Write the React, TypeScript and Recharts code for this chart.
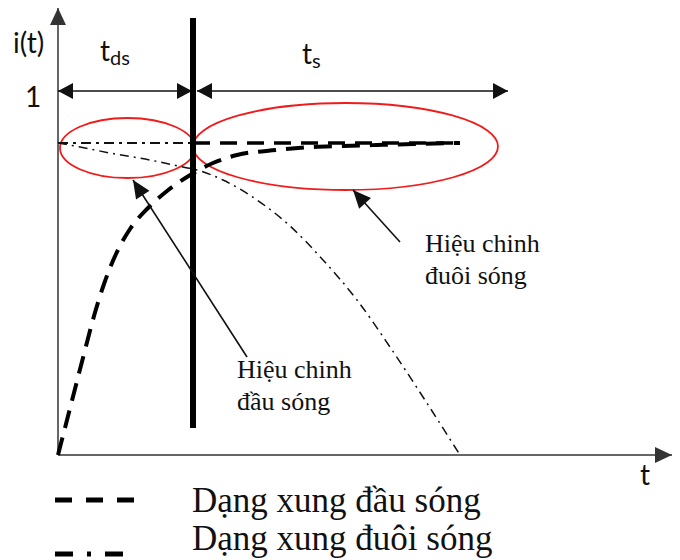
import React from "react";
import {
  LineChart,
  Line,
  XAxis,
  YAxis,
  ReferenceLine,
  ReferenceArea,
  ReferenceDot,
  Legend,
} from "recharts";

// front-of-wave pulse (dashed), normalised current
const frontT = [0, 0.15, 0.3, 0.45, 0.6, 0.7667, 0.9667, 1.2, 1.5, 1.8167, 2.15, 2.5833, 2.9833, 3.65, 4.25, 4.75, 5.3167, 5.9167, 6.7];
const frontI = [0, 0.1122, 0.2244, 0.3365, 0.4455, 0.5481, 0.6442, 0.7244, 0.7917, 0.8462, 0.891, 0.9359, 0.9615, 0.9776, 0.9872, 0.9904, 0.9936, 0.9968, 1.0];

// tail-of-wave pulse (dash-dot)
const tailT = [0, 0.3667, 0.8667, 1.5333, 2.0833, 2.3167, 2.75, 3.3167, 3.8667, 4.4167, 4.9833, 5.5333, 6.0833, 6.7];
const tailI = [1, 0.9872, 0.9679, 0.9455, 0.9231, 0.9135, 0.8814, 0.8173, 0.734, 0.625, 0.4968, 0.3462, 0.1859, 0];

// i = 1 level, split at t_ds
const T_DS = 2.25;
const T_END = 6.7;
const levelHeadT = [0, T_DS];
const levelTailT = [T_DS, T_END];

const seriesNames = ["Dạng xung đầu sóng", "Dạng xung đuôi sóng"];

const toRows = (ts: number[], is: number[]) => ts.map((t, k) => ({ t, i: is[k] }));
const frontData = toRows(frontT, frontI);
const tailData = toRows(tailT, tailI);
const levelHead = toRows(levelHeadT, [1, 1]);
const levelTail = toRows(levelTailT, [1, 1]);

const SERIF = "'Liberation Serif', 'Times New Roman', serif";
const SANS = "Lato, 'Open Sans', sans-serif";
const INK = "#111";
const RED = "#f01c1c";

const arrowShape = (both: boolean, len = 15, half = 8) => (p: any) => {
  const { x1, y1, x2, y2, stroke, strokeWidth } = p;
  const a = Math.atan2(y2 - y1, x2 - x1);
  const head = (x: number, y: number, ang: number) => {
    const bx = x - len * Math.cos(ang);
    const by = y - len * Math.sin(ang);
    const nx = -Math.sin(ang) * half;
    const ny = Math.cos(ang) * half;
    return `${x},${y} ${bx + nx},${by + ny} ${bx - nx},${by - ny}`;
  };
  return (
    <g>
      <line x1={x1} y1={y1} x2={x2} y2={y2} stroke={stroke} strokeWidth={strokeWidth} />
      <polygon points={head(x2, y2, a)} fill={stroke} />
      {both && <polygon points={head(x1, y1, a + Math.PI)} fill={stroke} />}
    </g>
  );
};

const ellipseShape = (p: any) => (
  <ellipse
    cx={p.x + p.width / 2}
    cy={p.y + p.height / 2}
    rx={p.width / 2}
    ry={p.height / 2}
    fill="none"
    stroke={RED}
    strokeWidth={1.8}
  />
);

const textShape =
  (main: string, sub?: string, size = 28, font = SANS) =>
  (p: any) => (
    <text x={p.cx} y={p.cy} fontFamily={font} fontSize={size} fill={INK}>
      <tspan>{main}</tspan>
      {sub && (
        <tspan fontSize={20} dy={4}>
          {sub}
        </tspan>
      )}
    </text>
  );

const twoLineShape = (l1: string, l2: string) => (p: any) => (
  <text fontFamily={SERIF} fontSize={26} fill={INK}>
    <tspan x={p.cx} y={p.cy}>{l1}</tspan>
    <tspan x={p.cx} y={p.cy + 32}>{l2}</tspan>
  </text>
);

const renderLegend = () => (
  <svg width={680} height={90}>
    <line x1={55} y1={30} x2={135} y2={30} stroke="#000" strokeWidth={5} strokeDasharray="17 14" />
    <text x={192} y={42} fontFamily={SERIF} fontSize={35} fill={INK}>
      {seriesNames[0]}
    </text>
    <line x1={55} y1={84} x2={123} y2={84} stroke="#000" strokeWidth={5} strokeDasharray="18 14 4 14" />
    <text x={192} y={80} fontFamily={SERIF} fontSize={35} fill={INK}>
      {seriesNames[1]}
    </text>
  </svg>
);

export default function App() {
  return (
    <div style={{ position: "absolute", left: 0, top: 0, width: 680, height: 560, background: "#fff" }}>
      <LineChart width={680} height={560} margin={{ top: 0, right: 0, bottom: 0, left: 0 }}>
        <XAxis type="number" dataKey="t" domain={[-0.9667, 10.3667]} hide allowDataOverflow />
        <YAxis type="number" domain={[-0.3365, 1.4583]} hide allowDataOverflow />

        {/* axes with arrow heads */}
        <ReferenceLine segment={[{ x: 0, y: 0 }, { x: 0, y: 1.4327 }]} stroke="#333" strokeWidth={1.5} shape={arrowShape(false, 17, 8)} />
        <ReferenceLine segment={[{ x: 0, y: 0 }, { x: 10.2333, y: 0 }]} stroke="#333" strokeWidth={1.5} shape={arrowShape(false, 17, 8)} />

        {/* t_ds and t_s spans */}
        <ReferenceLine segment={[{ x: 0, y: 1.1667 }, { x: 2.233, y: 1.1667 }]} stroke="#111" strokeWidth={1.5} shape={arrowShape(true)} />
        <ReferenceLine segment={[{ x: 2.317, y: 1.1667 }, { x: 7.5, y: 1.1667 }]} stroke="#111" strokeWidth={1.5} shape={arrowShape(true)} />

        {/* correction regions */}
        <ReferenceArea x1={0.0333} x2={2.2833} y1={0.8878} y2={1.0801} shape={ellipseShape} />
        <ReferenceArea x1={2.25} x2={7.3333} y1={0.8494} y2={1.1282} shape={ellipseShape} />

        <Line data={levelHead} dataKey="i" type="linear" stroke="#111" strokeWidth={2} strokeDasharray="10 5 3 5" dot={false} activeDot={false} isAnimationActive={false} />
        <Line data={levelTail} dataKey="i" type="linear" stroke="#000" strokeWidth={3.5} strokeDasharray="17 10" dot={false} activeDot={false} isAnimationActive={false} />
        <Line data={frontData} dataKey="i" type="monotone" stroke="#000" strokeWidth={4} strokeDasharray="18 10" dot={false} activeDot={false} isAnimationActive={false} />
        <Line data={tailData} dataKey="i" type="monotone" stroke="#111" strokeWidth={1.5} strokeDasharray="9 5 2 5" dot={false} activeDot={false} isAnimationActive={false} />

        {/* boundary between front and tail */}
        <ReferenceLine segment={[{ x: T_DS, y: 0.0865 }, { x: T_DS, y: 1.4006 }]} stroke="#000" strokeWidth={6} />

        {/* callouts */}
        <ReferenceLine segment={[{ x: 3.15, y: 0.3141 }, { x: 1.25, y: 0.8814 }]} stroke="#111" strokeWidth={1.6} shape={arrowShape(false, 18, 8)} />
        <ReferenceLine segment={[{ x: 5.7, y: 0.6827 }, { x: 4.9167, y: 0.8494 }]} stroke="#111" strokeWidth={1.6} shape={arrowShape(false, 18, 8)} />

        <ReferenceDot x={2.9833} y={0.2468} shape={twoLineShape("Hiệu chinh", "đầu sóng")} />
        <ReferenceDot x={6.1167} y={0.6506} shape={twoLineShape("Hiệu chinh", "đuôi sóng")} />

        {/* axis texts */}
        <ReferenceDot x={-0.75} y={1.2885} shape={textShape("i(t)")} />
        <ReferenceDot x={-0.55} y={1.1154} shape={textShape("1")} />
        <ReferenceDot x={0.7} y={1.2628} shape={textShape("t", "ds")} />
        <ReferenceDot x={4.0667} y={1.2532} shape={textShape("t", "s")} />
        <ReferenceDot x={9.7} y={-0.0962} shape={textShape("t")} />

        <Legend
          layout="vertical"
          align="center"
          verticalAlign="middle"
          content={renderLegend}
          wrapperStyle={{ left: 0, top: 470, width: 680, height: 90 }}
        />
      </LineChart>
    </div>
  );
}
